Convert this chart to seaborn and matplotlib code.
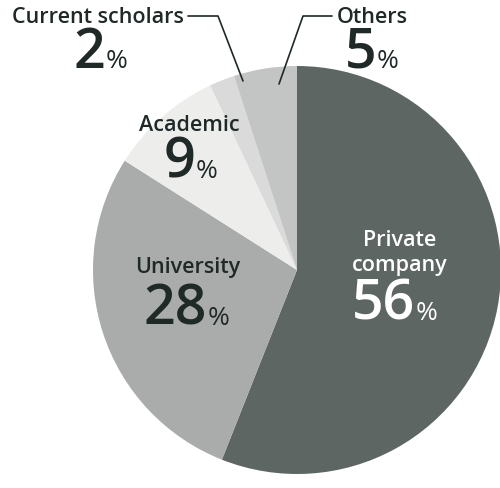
import matplotlib.pyplot as plt
import seaborn as sns

# share of graduates by career path
categories = ['Private company', 'University', 'Academic', 'Current scholars', 'Others']
shares = [56, 28, 9, 2, 5]
colors = ['#5e6664', '#a9acaa', '#ededec', '#d9dad9', '#c3c5c4']

sns.set_theme(style='white')
plt.rcParams['font.family'] = ['Open Sans', 'DejaVu Sans']

fig = plt.figure(figsize=(5, 4.89), dpi=100)
ax = fig.add_axes([0, 0, 1, 1])
ax.pie(shares, colors=colors, startangle=90, counterclock=False,
       center=(297, 218), radius=204, wedgeprops=dict(linewidth=0))
ax.set_xlim(0, 500)
ax.set_ylim(0, 489)
ax.set_aspect('equal')
ax.axis('off')

dark = '#1f2928'
# label layout: (category index, label x, label y, number joint x, number y, colour)
layout = [
    (0, 400, 236, 415, 169, 'white'),
    (1, 188, 221, 207, 164, dark),
    (2, 189, 363, 195, 311, dark),
    (3, 98, 471, 105, 421, dark),
    (4, 372, 471, 376, 421, dark),
]
for i, lx, ly, nx, ny, c in layout:
    name = categories[i]
    if i == 0:
        name = 'Private\ncompany'
    ax.text(lx, ly, name, ha='center', va='center', fontsize=15.5,
            color=c, fontweight='semibold', linespacing=1.2)
    ax.text(nx, ny, str(shares[i]), ha='right', va='baseline', fontsize=40,
            color=c, fontweight='semibold')
    ax.text(nx + 1, ny, '%', ha='left', va='baseline', fontsize=19, color=c)

# leader lines for the two small slices
ax.plot([188, 218, 243], [472, 472, 407], color=dark, lw=1.2)
ax.plot([332, 303, 279], [472, 472, 404], color=dark, lw=1.2)

plt.savefig('out.png', dpi=100)
